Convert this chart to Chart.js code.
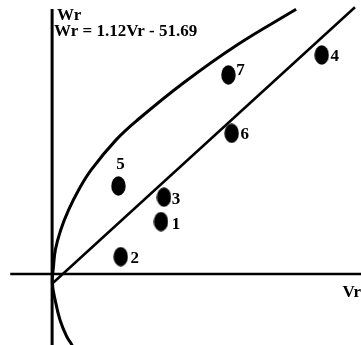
<!DOCTYPE html>
<html><head><meta charset="utf-8">
<script src="https://cdn.jsdelivr.net/npm/chart.js@4"></script>
<style>html,body{margin:0;padding:0;background:#fff;}canvas{display:block;}</style>
</head><body>
<canvas id="c" width="361" height="345"></canvas>
<script>
// ---- data ----
const pointLabels = ['1', '2', '3', '4', '5', '6', '7'];
const vrValues = [468, 295, 481, 1159, 285, 772, 758];
const wrValues = [276, 91, 405, 1155, 464, 742, 1050];
// boundary curve (top end -> vertex -> lower end)
const curveVr = [1049, 795, 567, 367, 275, 168, 114, 71, 37, 14, 6, 1, 13, 34, 63, 85, 95];
const curveWr = [1396, 1208, 1010, 812, 707, 549, 443, 338, 232, 127, 39, -47, -137, -243, -331, -374, -411];
// regression line Wr = 1.12 Vr - 51.69
const slope = 1.12;
const intercept = -51.69;
const lineVrRange = [0, 1302];
// axis extents
const xRange = [-224, 1328];
const yRange = [-375, 1445];
const vAxisTop = 1398;
const hAxisLeft = -180;

// ---- styles ----
const FONT = 'bold 17px "Liberation Serif", "Times New Roman", serif';
const labelOffsets = [[15, 3], [14, 2], [12, 2], [13, 2], [2, -21], [13, 1], [12, -4]];

function ellipseStyle(w, h) {
  const c = document.createElement('canvas');
  c.width = w; c.height = h;
  const g = c.getContext('2d');
  g.fillStyle = '#000';
  g.beginPath();
  g.ellipse(w / 2, h / 2, w / 2 - 0.3, h / 2 - 0.3, 0, 0, Math.PI * 2);
  g.fill();
  return c;
}

const pts = vrValues.map((v, i) => ({ x: v, y: wrValues[i] }));
const curve = curveVr.map((v, i) => ({ x: v, y: curveWr[i] }));
const regLine = lineVrRange.map(v => ({ x: v, y: slope * v + intercept }));

const textPlugin = {
  id: 'texts',
  afterDatasetsDraw(chart) {
    const ctx = chart.ctx;
    const meta = chart.getDatasetMeta(4);
    const xs = chart.scales.x, ys = chart.scales.y;
    const ox = xs.getPixelForValue(0), oy = ys.getPixelForValue(0);
    ctx.save();
    ctx.font = FONT;
    ctx.fillStyle = '#000';
    ctx.textAlign = 'center';
    ctx.textBaseline = 'middle';
    meta.data.forEach((el, i) => {
      const o = labelOffsets[i];
      ctx.fillText(pointLabels[i], el.x + o[0], el.y + o[1]);
    });
    ctx.textAlign = 'left';
    ctx.textBaseline = 'alphabetic';
    ctx.fillText('Wr', ox + 5, 20);
    ctx.fillText('Wr = ' + slope + 'Vr - ' + Math.abs(intercept), ox + 2, 36);
    ctx.textAlign = 'right';
    ctx.fillText('Vr', chart.chartArea.right, oy + 23);
    ctx.restore();
  }
};

new Chart(document.getElementById('c'), {
  type: 'scatter',
  data: {
    datasets: [
      { data: [{ x: 0, y: vAxisTop }, { x: 0, y: yRange[0] }], showLine: true, borderColor: '#000', borderWidth: 3, pointRadius: 0 },
      { data: [{ x: hAxisLeft, y: 0 }, { x: xRange[1], y: 0 }], showLine: true, borderColor: '#000', borderWidth: 2.5, pointRadius: 0 },
      { data: curve, showLine: true, borderColor: '#000', borderWidth: 3, pointRadius: 0, tension: 0.4 },
      { data: regLine, showLine: true, borderColor: '#000', borderWidth: 2.5, pointRadius: 0 },
      { data: pts, showLine: false, pointStyle: ellipseStyle(15, 20), pointRadius: 8, backgroundColor: '#000', borderColor: '#000' }
    ]
  },
  options: {
    responsive: false,
    animation: false,
    layout: { padding: 0, autoPadding: false },
    plugins: { legend: { display: false }, tooltip: { enabled: false } },
    scales: {
      x: { type: 'linear', display: false, min: xRange[0], max: xRange[1] },
      y: { type: 'linear', display: false, min: yRange[0], max: yRange[1] }
    }
  },
  plugins: [textPlugin]
});
</script>
</body></html>
